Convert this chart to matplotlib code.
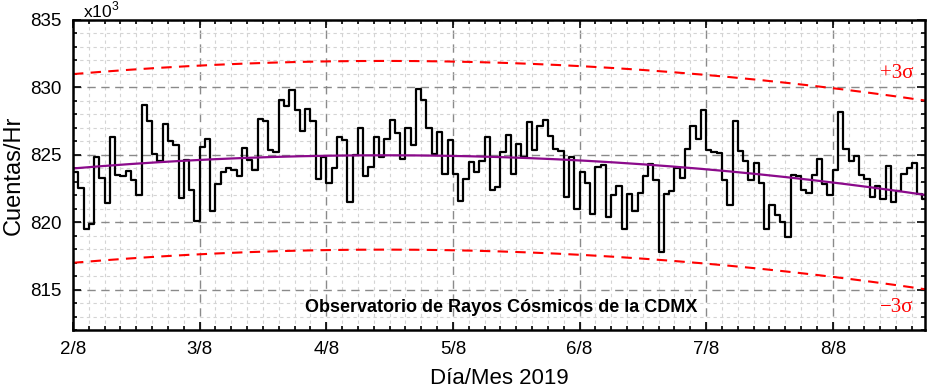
import numpy as np
import matplotlib.pyplot as plt
from matplotlib.ticker import MultipleLocator

plt.rcParams['font.family'] = ['Liberation Sans', 'DejaVu Sans']
plt.rcParams['mathtext.fontset'] = 'custom'
plt.rcParams['mathtext.rm'] = 'Liberation Sans'

# hourly counts (x10^3 counts/hr), starting 2/8 00:00
counts = [
    823.7, 822.5, 819.5, 819.85, 824.8, 823.3, 821.4, 826.3, 823.5, 823.4, 823.8, 823.1,
    822.0, 828.7, 827.5, 825.05, 824.55, 827.3, 826.0, 825.7, 821.8, 824.6, 822.4, 820.1,
    825.6, 826.2, 820.8, 822.8, 823.7, 824.0, 823.9, 823.4, 825.5, 824.6, 823.9, 827.65,
    827.5, 825.35, 825.2, 829.1, 828.6, 829.8, 828.3, 826.8, 828.4, 827.5, 823.2, 824.8,
    822.9, 824.0, 826.3, 826.1, 821.5, 825.0, 827.0, 823.4, 824.1, 826.3, 824.8, 826.2,
    827.6, 826.6, 824.7, 827.0, 825.7, 829.9, 829.1, 827.0, 825.05, 826.7, 823.6, 826.1,
    823.6, 821.6, 823.2, 824.45, 823.7, 824.55, 826.3, 822.4, 822.6, 825.2, 826.5, 823.6,
    825.8, 824.85, 827.45, 825.35, 827.15, 827.6, 826.4, 825.4, 825.3, 821.9, 824.85, 821.0,
    823.7, 822.9, 820.6, 824.1, 824.25, 820.4, 822.0, 822.7, 819.5, 822.1, 820.8, 822.2,
    823.4, 824.3, 823.1, 817.8, 822.1, 822.3, 824.0, 823.3, 825.4, 827.15, 826.2, 828.3,
    825.35, 825.2, 825.1, 823.1, 821.3, 827.5, 825.25, 824.55, 823.1, 824.4, 822.9, 819.5,
    821.3, 820.5, 820.0, 818.9, 823.5, 823.4, 822.35, 822.2, 823.5, 824.7, 822.85, 822.05,
    823.9, 828.2, 825.45, 824.55, 824.9, 823.5, 823.2, 821.9, 822.65, 821.75, 824.15, 821.5,
    822.3, 823.6, 824.05, 824.4, 822.1, 821.75,
]
start_day = 2
day_ticks = [2, 3, 4, 5, 6, 7, 8]
day_labels = ['2/8', '3/8', '4/8', '5/8', '6/8', '7/8', '8/8']
y_ticks = [815, 820, 825, 830, 835]
three_sigma = 7.0  # half-width of the band

t = start_day + np.arange(len(counts)) / 24
t_edge = np.append(t, t[-1] + 1 / 24)
c_edge = np.append(counts, counts[-1])

# quadratic trend of the counts
coef = np.polyfit(t, counts, 2)
tt = np.linspace(2, 8.73, 300)
trend = np.polyval(coef, tt)

fig = plt.figure(figsize=(9.38, 3.92), dpi=100)
ax = fig.add_axes([0.0778, 0.1582, 0.9083, 0.7908])

ax.grid(True, which='minor', color='#d4d4d4', linestyle=(0, (3, 3)), linewidth=0.8)
ax.grid(True, which='major', color='#8a8a8a', linestyle=(0, (6, 4)), linewidth=1.0)
ax.set_axisbelow(True)

ax.plot(tt, trend + three_sigma, color='red', linestyle=(0, (5, 3.5)), linewidth=1.5)
ax.plot(tt, trend - three_sigma, color='red', linestyle=(0, (5, 3.5)), linewidth=1.5)
ax.step(t_edge, c_edge, where='post', color='black', linewidth=1.6)
ax.plot(tt, trend, color='#8b0a8b', linewidth=1.6)

ax.set_xlim(2, 8.728)
ax.set_ylim(812, 835)
ax.set_xticks(day_ticks)
ax.set_xticklabels(day_labels)
ax.set_yticks(y_ticks)
ax.xaxis.set_minor_locator(MultipleLocator(1 / 8))
ax.yaxis.set_minor_locator(MultipleLocator(1))
ax.tick_params(which='both', direction='in', top=True, right=True, width=1.2)
ax.tick_params(which='major', length=6, labelsize=13.5, pad=8)
ax.tick_params(which='minor', length=3)
for s in ax.spines.values():
    s.set_linewidth(1.8)

ax.set_xlabel('Día/Mes 2019', fontsize=16, labelpad=7)
ax.set_ylabel('Cuentas/Hr', fontsize=17, labelpad=4)

ax.text(0.012, 1.0, r'x10$^{3}$', transform=ax.transAxes, fontsize=12.5, va='bottom')
ax.text(0.503, 0.071, 'Observatorio de Rayos Cósmicos de la CDMX', transform=ax.transAxes,
        fontsize=13, fontweight='bold', ha='center', va='center')
ax.text(0.967, 0.829, '+3σ', transform=ax.transAxes, color='red', fontsize=15,
        family=['Liberation Serif', 'DejaVu Serif'], ha='center', va='center')
ax.text(0.967, 0.071, '−3σ', transform=ax.transAxes, color='red', fontsize=15,
        family=['Liberation Serif', 'DejaVu Serif'], ha='center', va='center')

fig.savefig('out.png', dpi=100)
